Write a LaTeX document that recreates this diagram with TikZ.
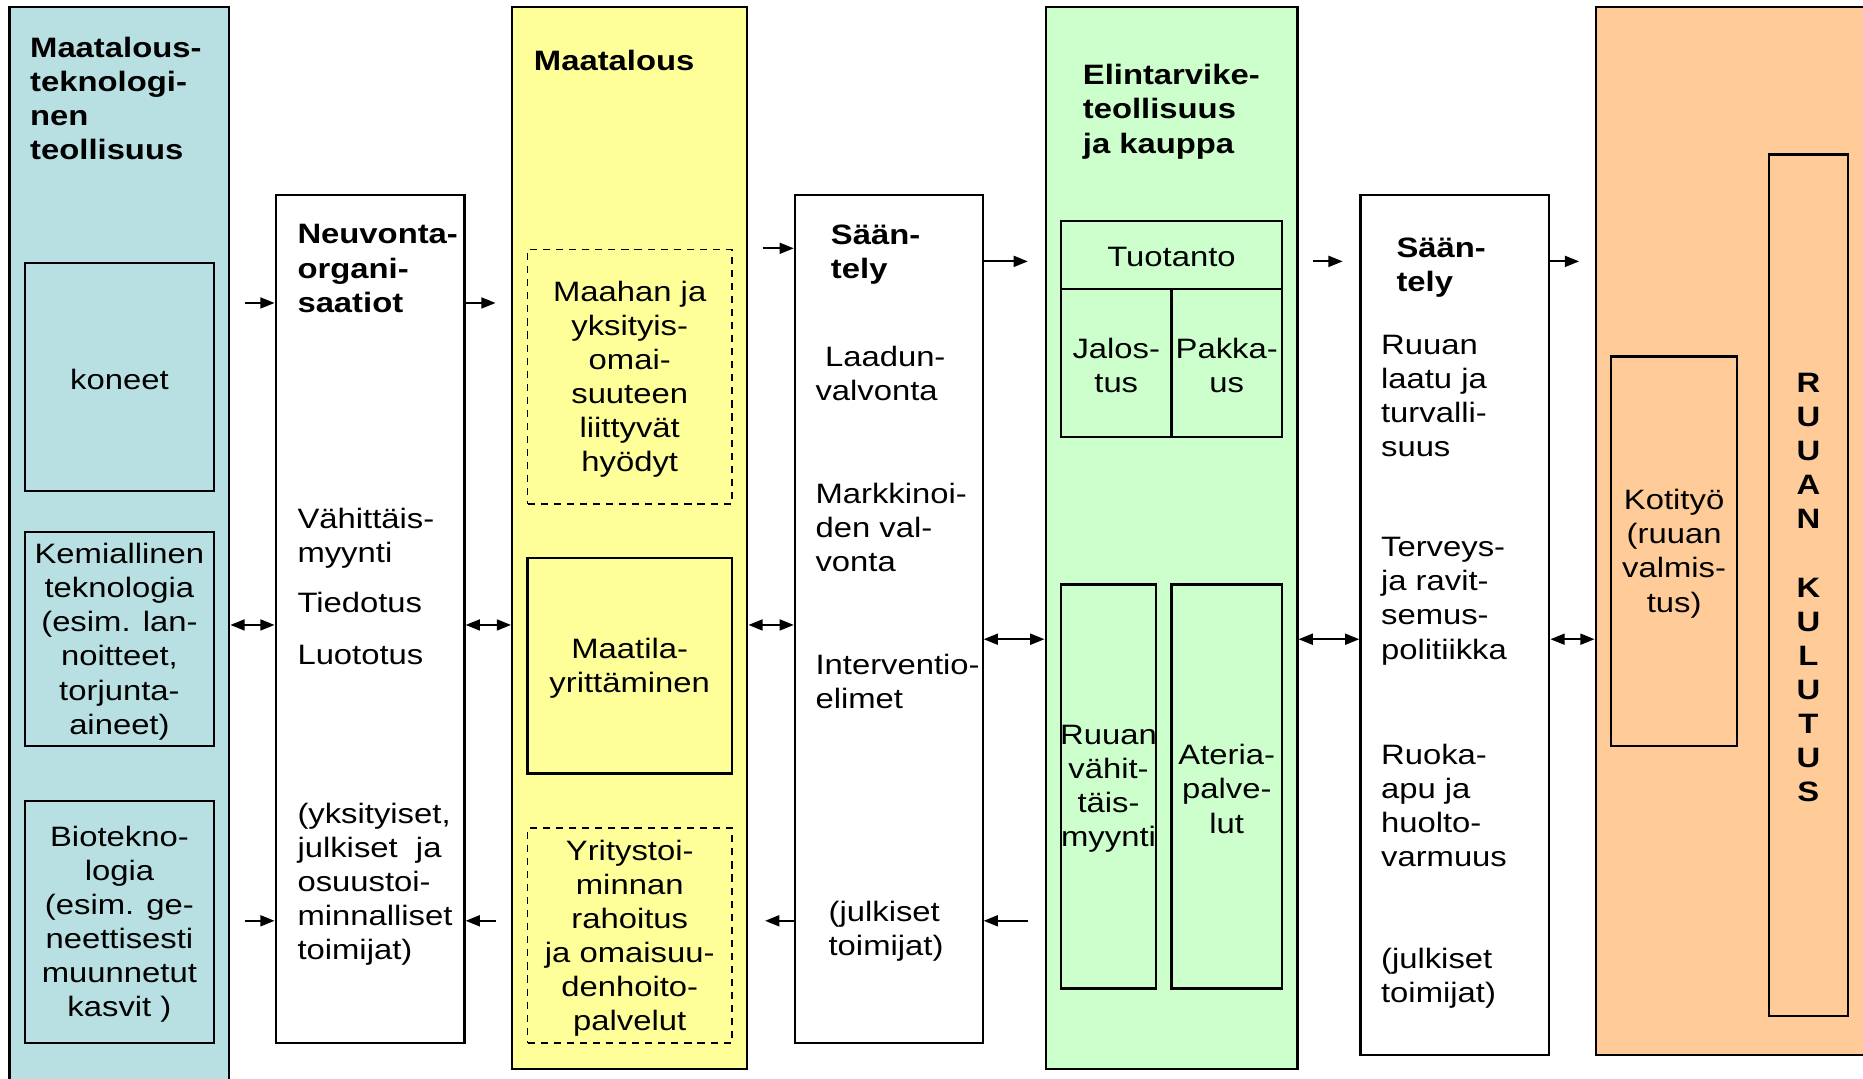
\documentclass[tikz,border=0pt]{standalone}
\usepackage{fontspec}
\setmainfont{Liberation Sans}[FakeStretch=1.17]
\usetikzlibrary{arrows.meta,fit}
\definecolor{cblue}{HTML}{B8DFE2}
\definecolor{cyell}{HTML}{FFFF99}
\definecolor{cgreen}{HTML}{CCFFCC}
\definecolor{corange}{HTML}{FFCC99}
\newcommand\fsz{\fontsize{11.8}{14.35}\selectfont}
\begin{document}
\begin{tikzpicture}[x=0.5pt,y=-0.5pt,
  every node/.append style={font=\fsz},
  colbox/.style={draw, line width=0.9pt, inner sep=0pt},
  inbox/.style={draw, line width=0.9pt, inner sep=0pt},
  dbox/.style={draw, line width=0.7pt, dash pattern=on 3pt off 2.5pt, inner sep=0pt},
  ctxt/.style={inner sep=0pt, align=center},
  txt/.style={inner sep=0pt, anchor=west, align=left},
  ttl/.style={inner sep=0pt, anchor=west, align=left, font=\fsz\bfseries},
  arr/.style={-{Triangle[length=6pt,width=4.6pt]}, line width=0.85pt},
  darr/.style={{Triangle[length=6pt,width=4.6pt]}-{Triangle[length=6pt,width=4.6pt]}, line width=0.85pt}]
\useasboundingbox (0,0) rectangle (1568,908);
\fill[white] (0,0) rectangle (1568,908);
% columns
\node[colbox, fill=cblue,   fit={(8,6) (193,918)}] (tech) {};
\node[colbox, fill=white,   fit={(232,164) (391,878)}] (neuv) {};
\node[colbox, fill=cyell,   fit={(431,6) (629,900)}] (maa) {};
\node[colbox, fill=white,   fit={(669,164) (827,878)}] (saan1) {};
\node[colbox, fill=cgreen,  fit={(880,6) (1092,900)}] (elin) {};
\node[colbox, fill=white,   fit={(1145,164) (1304,888)}] (saan2) {};
\node[colbox, fill=corange, fit={(1343,6) (1580,888)}] (kul) {};
% inner boxes
\node[inbox, fit={(21,221) (180,413)}] (koneet) {};
\node[inbox, fit={(21,448) (180,628)}] (kemia) {};
\node[inbox, fit={(21,674) (180,878)}] (bio) {};
\node[dbox, fit={(444,210) (616,424)}] (maahan) {};
\node[inbox, fit={(444,470) (616,651)}] (maatila) {};
\node[dbox, fit={(444,697) (616,878)}] (rahoitus) {};
\node[inbox, fit={(893,186) (1079,243)}] (tuot) {};
\node[inbox, fit={(893,243) (986,368)}] (jal) {};
\node[inbox, fit={(986,243) (1079,368)}] (pak) {};
\node[inbox, fit={(893,492) (973,832)}] (vahit) {};
\node[inbox, fit={(986,492) (1079,832)}] (ateria) {};
\node[inbox, fit={(1356,300) (1462,628)}] (koti) {};
\node[inbox, fit={(1489,130) (1555,855)}] (ruokul) {};
% texts of inner boxes
\node[ctxt] (x-koneet) at ([yshift=-1]koneet.center) {koneet};
\node[ctxt] (x-kemia) at ([yshift=-1]kemia.center) {Kemiallinen\\teknologia\hspace*{0.28em}\\(esim. lan-\\noitteet,\\torjunta-\\aineet)};
\node[ctxt] (x-bio) at ([yshift=-1]bio.center) {Biotekno-\\logia\hspace*{0.28em}\\(esim. ge-\\neettisesti\\muunnetut\\kasvit )};
\node[ctxt] (x-maahan) at ([yshift=-1]maahan.center) {Maahan ja\\yksityis-\\omai-\\suuteen\\liittyvät\\hyödyt};
\node[ctxt] (x-maatila) at ([yshift=-1]maatila.center) {Maatila-\\yrittäminen};
\node[ctxt] (x-rahoitus) at ([yshift=-1]rahoitus.center) {Yritystoi-\\minnan\\rahoitus\\ja omaisuu-\\denhoito-\\palvelut};
\node[ctxt] (x-tuot) at ([yshift=-1]tuot.center) {Tuotanto};
\node[ctxt] (x-jal) at ([yshift=-1]jal.center) {Jalos-\\tus};
\node[ctxt] (x-pak) at ([yshift=-1]pak.center) {Pakka-\\us};
\node[ctxt] (x-vahit) at ([yshift=-1]vahit.center) {Ruuan\\vähit-\\täis-\\myynti};
\node[ctxt] (x-ateria) at ([yshift=-1]ateria.center) {Ateria-\\palve-\\lut};
\node[ctxt] (x-koti) at ([yshift=-1]koti.center) {Kotityö\\(ruuan\\valmis-\\tus)};
\node[ctxt, font=\fsz\bfseries] (x-ruokul) at ([yshift=-1]ruokul.center) {R\\U\\U\\A\\N\\~\\K\\U\\L\\U\\T\\U\\S};
% titles and texts
\node[ttl] (t-tech) at (25,83) {Maatalous-\\teknologi-\\nen\\teollisuus};
\node[ttl] (t-neuv) at (250,226) {Neuvonta-\\organi-\\saatiot};
\node[txt] (n1) at (250,453) {Vähittäis-\\myynti};
\node[txt] (n2) at (250,507) {Tiedotus};
\node[txt] (n3) at (250,551) {Luototus};
\node[txt] (n4) at (250,744) {(yksityiset,\\julkiset~~ja\\osuustoi-\\minnalliset\\toimijat)};
\node[ttl] (t-maa) at (449,51) {Maatalous};
\node[ttl] (t-s1) at (699,214.5) {Sään-\\tely};
\node[txt] (s1a) at (686,314) {\hspace*{4pt}Laadun-\\valvonta};
\node[txt] (s1b) at (686,444) {Markkinoi-\\den val-\\vonta};
\node[txt] (s1c) at (686,573.5) {Interventio-\\elimet};
\node[txt] (s1d) at (697,784) {(julkiset\\toimijat)};
\node[ttl] (t-elin) at (911,94) {Elintarvike-\\teollisuus\\ja kauppa};
\node[ttl] (t-s2) at (1175,225.5) {Sään-\\tely};
\node[txt] (s2a) at (1162,333) {Ruuan\\laatu ja\\turvalli-\\suus};
\node[txt] (s2b) at (1162,506) {Terveys-\\ja ravit-\\semus-\\politiikka};
\node[txt] (s2c) at (1162,678) {Ruoka-\\apu ja\\huolto-\\varmuus};
\node[txt] (s2d) at (1162,823) {(julkiset\\toimijat)};
% rows for connectors
\coordinate (r1) at (0,255);
\coordinate (r2) at (0,209);
\coordinate (r3) at (0,220);
\coordinate (r4) at (0,526);
\coordinate (r5) at (0,538);
\coordinate (r6) at (0,775);
\draw[arr, shorten <=6pt] (tech.east |- r1) -- (neuv.west |- r1);
\draw[arr, shorten >=6.5pt] (neuv.east |- r1) -- (maa.west |- r1);
\draw[arr, shorten <=6pt] (maa.east |- r2) -- (saan1.west |- r2);
\draw[arr, shorten >=7pt] (saan1.east |- r3) -- (elin.west |- r3);
\draw[arr, shorten <=6pt, shorten >=7pt] (elin.east |- r3) -- (saan2.west |- r3);
\draw[arr, shorten >=6.5pt] (saan2.east |- r3) -- (kul.west |- r3);
\draw[darr] (tech.east |- r4) -- (neuv.west |- r4);
\draw[darr] (neuv.east |- r4) -- (maa.west |- r4);
\draw[darr] (maa.east |- r4) -- (saan1.west |- r4);
\draw[darr] (saan1.east |- r5) -- (elin.west |- r5);
\draw[darr] (elin.east |- r5) -- (saan2.west |- r5);
\draw[darr] (saan2.east |- r5) -- (kul.west |- r5);
\draw[arr, shorten <=6pt] (tech.east |- r6) -- (neuv.west |- r6);
\draw[arr, shorten <=6.5pt] (maa.west |- r6) -- (neuv.east |- r6);
\draw[arr, shorten >=7pt] (saan1.west |- r6) -- (maa.east |- r6);
\draw[arr, shorten <=7pt] (elin.west |- r6) -- (saan1.east |- r6);
\end{tikzpicture}
\end{document}
